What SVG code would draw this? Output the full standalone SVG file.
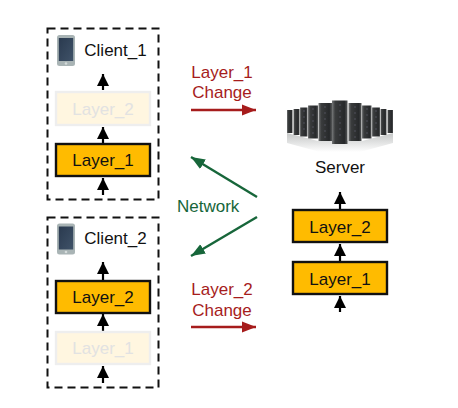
<svg xmlns="http://www.w3.org/2000/svg" width="458" height="408" viewBox="0 0 458 408">
<style>
text{font-family:"Liberation Sans",Arial,sans-serif;font-size:17px;text-anchor:middle;fill:#111}
.box{fill:none;stroke:#111;stroke-width:2;stroke-dasharray:8 5}
.on{fill:#ffbb00;stroke:#111;stroke-width:2.4}
.off{fill:#fff6e0;stroke:#eeeeee;stroke-width:2.4}
.offt{fill:#e2e2e2}
.up{stroke:#000;stroke-width:2.2;fill:none;marker-end:url(#k)}
.red{stroke:#a61c1c;stroke-width:2.4;fill:none;marker-end:url(#r)}
.grn{stroke:#17663a;stroke-width:2.4;fill:none;marker-end:url(#g)}
.rt{fill:#a61c1c}
.gt{fill:#17663a;text-anchor:start}
.rack{fill:url(#rk)}
.ref{fill:url(#rf)}
.led{stroke:#667;stroke-width:.6;stroke-dasharray:2 4;fill:none}
</style>
<defs>
<marker id="k" markerUnits="userSpaceOnUse" markerWidth="12" markerHeight="12" refX="12" refY="6" orient="auto"><path d="M0 0L12 6L0 12Z" fill="#000"/></marker>
<marker id="r" markerUnits="userSpaceOnUse" markerWidth="14" markerHeight="12" refX="14" refY="6" orient="auto"><path d="M0 .5L14 6L0 11.500Z" fill="#a61c1c"/></marker>
<marker id="g" markerUnits="userSpaceOnUse" markerWidth="14" markerHeight="12" refX="14" refY="6" orient="auto"><path d="M0 .5L14 6L0 11.500Z" fill="#17663a"/></marker>
<linearGradient id="rk" x1="0" x2="1" y1="0" y2="0"><stop offset="0" stop-color="#77797a"/><stop offset=".2" stop-color="#3a3c3d"/><stop offset=".8" stop-color="#26282a"/><stop offset="1" stop-color="#555758"/></linearGradient>
<linearGradient id="rf" x1="0" x2="0" y1="0" y2="1"><stop offset="0" stop-color="#c4c6c6"/><stop offset="1" stop-color="#fff"/></linearGradient>
<linearGradient id="ph" x1="0" x2="1" y1="0" y2="1"><stop offset="0" stop-color="#2a3a4f"/><stop offset="1" stop-color="#3f5268"/></linearGradient>
<g id="phone"><rect x="0" y="0" width="18" height="31" rx="2.5" fill="#a9b4b5"/><rect x="1.8" y="3" width="14.4" height="23" fill="url(#ph)"/><circle cx="9" cy="28.5" r="1.3" fill="#d5dbdb"/></g>
</defs>
<g id="connectors">
<path class="up" d="M103 90V74"/><path class="up" d="M103 143V127"/><path class="up" d="M103 195V178"/>
<path class="up" d="M103 280V262"/><path class="up" d="M103 331V314"/><path class="up" d="M103 383V366"/>
<path class="up" d="M340 209V192"/><path class="up" d="M340 261V244"/><path class="up" d="M340 312V296"/>
<path class="red" d="M191 110H256"/><path class="red" d="M191 327H256"/>
<path class="grn" d="M257 197L191 157"/><path class="grn" d="M257 217L191 256"/>
</g>
<g id="client1">
<rect class="box" x="47.500" y="28.500" width="111" height="171"/>
<use href="#phone" x="57" y="35"/>
<text x="115.500" y="56">Client_1</text>
<rect class="off" x="56" y="92" width="94" height="33"/><text class="offt" x="103" y="115">Layer_2</text>
<rect class="on" x="56" y="144" width="94" height="32"/><text x="103" y="166">Layer_1</text>
</g>
<g id="client2">
<rect class="box" x="47.500" y="217.500" width="111" height="170"/>
<use href="#phone" x="57" y="223.500"/>
<text x="115.500" y="244">Client_2</text>
<rect class="on" x="56" y="281" width="94" height="32"/><text x="103" y="303">Layer_2</text>
<rect class="off" x="56" y="332" width="94" height="32"/><text class="offt" x="103" y="354">Layer_1</text>
</g>
<g id="server">
<path class="ref" d="M287 133L318 141H362L393 133V143L360 152H320L287 143Z"/>
<rect class="rack" x="287" y="110" width="5.500" height="23"/>
<rect class="rack" x="293.500" y="109" width="6" height="26"/>
<rect class="rack" x="300" y="107.500" width="7.500" height="29"/>
<rect class="rack" x="308" y="105.500" width="10" height="33"/>
<rect class="rack" x="318.500" y="103" width="13.500" height="38"/>
<rect class="rack" x="332" y="100.500" width="15.500" height="43.500"/>
<rect class="rack" x="348.500" y="103" width="13" height="38"/>
<rect class="rack" x="362" y="105.500" width="9.500" height="33"/>
<rect class="rack" x="372" y="107.500" width="8" height="29"/>
<rect class="rack" x="380.500" y="109" width="6" height="26"/>
<rect class="rack" x="387.500" y="110" width="5.500" height="23"/>
<path class="led" d="M304 110V134M313 108V136M325 106V138M340 104V140M355 106V138M367 108V136M376 110V134"/>
<text x="340" y="173">Server</text>
<rect class="on" x="293" y="210" width="94" height="32"/><text x="340" y="233">Layer_2</text>
<rect class="on" x="293" y="262" width="94" height="32"/><text x="340" y="285">Layer_1</text>
</g>
<g id="labels">
<text class="rt" x="222" y="78">Layer_1</text><text class="rt" x="222" y="98">Change</text>
<text class="rt" x="222" y="295">Layer_2</text><text class="rt" x="222" y="316">Change</text>
<text class="gt" x="177" y="212">Network</text>
</g>
</svg>
